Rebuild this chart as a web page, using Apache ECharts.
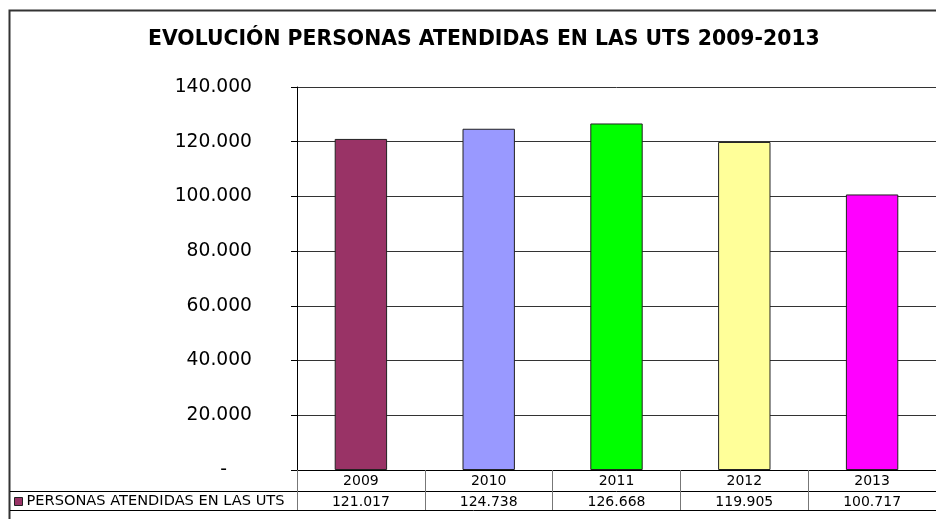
<!DOCTYPE html>
<html>
<head>
<meta charset="utf-8">
<script src="https://cdn.jsdelivr.net/npm/echarts@6/dist/echarts.min.js"></script>
<style>
  html, body { margin: 0; padding: 0; background: #fff; }
  #chart { width: 936px; height: 519px; }
</style>
</head>
<body>
<div id="chart"></div>
<script>
// datos
const years = ['2009', '2010', '2011', '2012', '2013']
const personas = [121017, 124738, 126668, 119905, 100717]
const barColors = ['#993366', '#9999FF', '#00FF00', '#FFFF99', '#FF00FF']
const serieName = 'PERSONAS ATENDIDAS EN LAS UTS'

const FONT = 'DejaVu Sans, Verdana, sans-serif'

function miles (v) {
  return String(v).replace(/\B(?=(\d{3})+(?!\d))/g, '.')
}

const chart = echarts.init(document.getElementById('chart'))

chart.setOption({
  backgroundColor: '#fff',
  animation: false,
  title: {
    text: 'EVOLUCIÓN PERSONAS ATENDIDAS EN LAS UTS 2009-2013',
    left: 148,
    top: 30,
    padding: 0,
    textStyle: { fontFamily: FONT, fontSize: 20.4, fontWeight: 'bold', color: '#000' }
  },
  legend: {
    left: 14,
    top: 494,
    padding: 0,
    itemWidth: 8,
    itemHeight: 8,
    itemGap: 5,
    icon: 'rect',
    data: [serieName],
    textStyle: { fontFamily: FONT, fontSize: 14.6, color: '#000', padding: [0, 0, 0, -1] },
    itemStyle: { color: '#993366', borderColor: '#222', borderWidth: 1 }
  },
  grid: { left: 297, top: 87, width: 643, height: 383, containLabel: false },
  xAxis: [
    {
      type: 'category',
      data: years,
      position: 'bottom',
      axisLine: { lineStyle: { color: '#000', width: 1 } },
      axisTick: { show: true, length: 40, lineStyle: { color: '#777' } },
      axisLabel: { margin: 4, fontFamily: FONT, fontSize: 14, color: '#000' }
    },
    {
      type: 'category',
      data: years,
      position: 'bottom',
      offset: 21,
      axisLine: { show: true, lineStyle: { color: '#000', width: 1 } },
      axisTick: { show: false },
      axisLabel: {
        margin: 4,
        fontFamily: FONT,
        fontSize: 14,
        color: '#000',
        formatter: function (v, i) { return miles(personas[i]) }
      }
    }
  ],
  yAxis: {
    type: 'value',
    min: 0,
    max: 140000,
    interval: 20000,
    axisLine: { show: true, lineStyle: { color: '#000' } },
    axisTick: { show: true, length: 6, lineStyle: { color: '#000' } },
    splitLine: { lineStyle: { color: '#333', width: 1 } },
    axisLabel: {
      margin: 45,
      fontFamily: FONT,
      fontSize: 18.7,
      color: '#000',
      formatter: function (v) { return v === 0 ? '{d|-}' : miles(v) },
      rich: { d: { fontFamily: FONT, fontSize: 18.7, color: '#000', padding: [0, 25, 0, 0] } }
    }
  },
  series: [
    {
      name: serieName,
      type: 'bar',
      barWidth: '41%',
      itemStyle: { color: '#993366', borderColor: '#222', borderWidth: 1 },
      data: personas.map((v, i) => ({ value: v, itemStyle: { color: barColors[i] } }))
    }
  ],
  graphic: [
    // marco del gráfico y filas de la tabla de datos
    { type: 'rect', silent: true, shape: { x: 9.5, y: 10.5, width: 940, height: 520 },
      style: { fill: 'none', stroke: '#333', lineWidth: 2 } },
    { type: 'line', silent: true, shape: { x1: 10, y1: 491.5, x2: 297, y2: 491.5 },
      style: { stroke: '#000', lineWidth: 1 } },
    { type: 'line', silent: true, shape: { x1: 10, y1: 510.5, x2: 940, y2: 510.5 },
      style: { stroke: '#000', lineWidth: 1 } }
  ]
})
</script>
</body>
</html>
